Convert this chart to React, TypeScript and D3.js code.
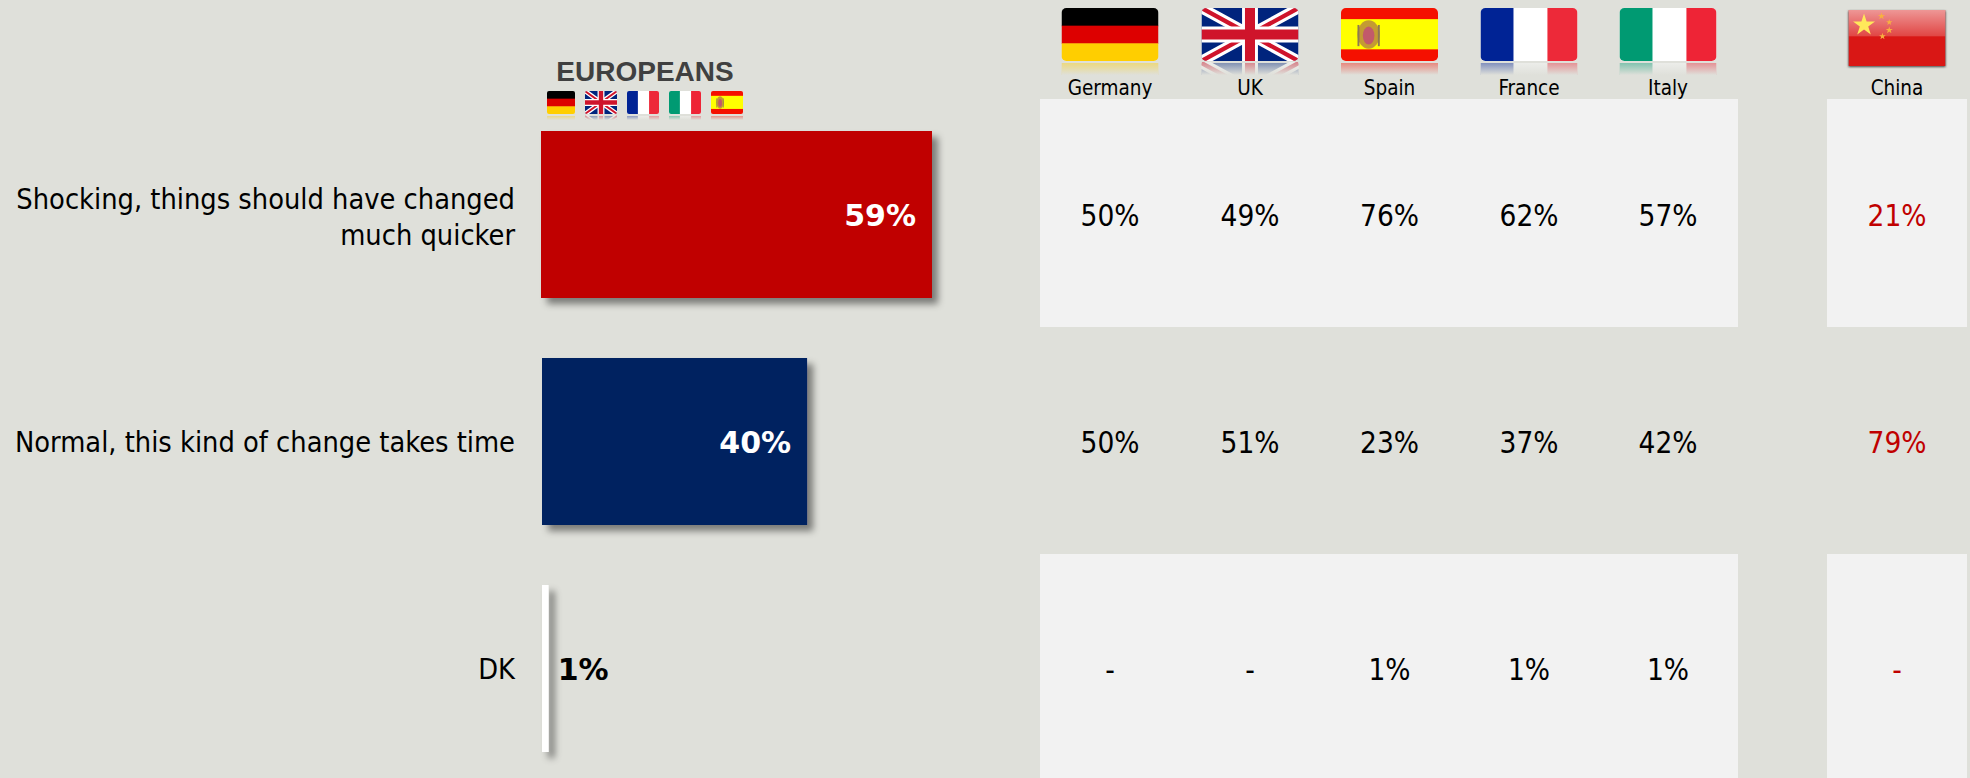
import React from "react";
import * as d3 from "d3";

const W = 1970, H = 778;
const answers = [["Shocking, things should have changed", "much quicker"], ["Normal, this kind of change takes time"], ["DK"]];
const europeans = [59, 40, 1];
const countries = ["Germany", "UK", "Spain", "France", "Italy", "China"];
const codes = ["de", "uk", "es", "fr", "it", "cn"];
const germany = ["50%", "50%", "-"];
const uk = ["49%", "51%", "-"];
const spain = ["76%", "23%", "1%"];
const france = ["62%", "37%", "1%"];
const italy = ["57%", "42%", "1%"];
const china = ["21%", "79%", "-"];
const table = [germany, uk, spain, france, italy, china];
const miniFlags = ["de", "uk", "fr", "it", "es"];
const colX = [1110, 1250, 1389.5, 1529, 1668, 1897];
const miniX = [547, 585, 627, 669, 711];
const miniW = [28, 32, 32, 32, 32];
const rowY = [131, 358, 585];
const barColors = ["#C00000", "#002060", "#FFFFFF"];
const BG = "#DFE0DA";
const FONT = "'DejaVu Sans Condensed', 'DejaVu Sans', sans-serif";

const x = d3.scaleLinear().domain([0, 59]).range([0, 391]);

function FlagArt({ code, w, h }: { code: string; w: number; h: number }) {
  if (code === "de") return <g>
    <rect width={w} height={h / 3 + .5} fill="#000" />
    <rect y={h / 3} width={w} height={h / 3 + .5} fill="#DD0000" />
    <rect y={2 * h / 3} width={w} height={h / 3} fill="#FFCE00" />
  </g>;
  if (code === "fr") return <g>
    <rect width={w} height={h} fill="#fff" />
    <rect width={w * .34} height={h} fill="#002395" />
    <rect x={w * .69} width={w * .31} height={h} fill="#ED2939" />
  </g>;
  if (code === "it") return <g>
    <rect width={w} height={h} fill="#fff" />
    <rect width={w * .34} height={h} fill="#009A72" />
    <rect x={w * .69} width={w * .31} height={h} fill="#EE2436" />
  </g>;
  if (code === "es") return <g>
    <rect width={w} height={h} fill="#F51000" />
    <rect y={h * .21} width={w} height={h * .57} fill="#FFFF00" />
    <ellipse cx={w * .285} cy={h * .5} rx={w * .115} ry={h * .27} fill="#B98A3C" opacity={0.85} />
    <ellipse cx={w * .285} cy={h * .52} rx={w * .06} ry={h * .17} fill="#C25A6A" />
    <rect x={w * .17} y={h * .32} width={w * .02} height={h * .4} fill="#8E7A50" />
    <rect x={w * .38} y={h * .32} width={w * .02} height={h * .4} fill="#8E7A50" />
  </g>;
  if (code === "uk") {
    return <g>
      <rect width={w} height={h} fill="#00247D" />
      <path d={`M0,0L${w},${h}M${w},0L0,${h}`} stroke="#fff" strokeWidth={h * .2} />
      <path d={`M0,0L${w},${h}M${w},0L0,${h}`} stroke="#CF142B" strokeWidth={h * .08} />
      <path d={`M${w / 2},0V${h}M0,${h / 2}H${w}`} stroke="#fff" strokeWidth={h * .3} />
      <path d={`M${w / 2},0V${h}M0,${h / 2}H${w}`} stroke="#CF142B" strokeWidth={h * .19} />
    </g>;
  }
  const star = d3.symbol(d3.symbolStar);
  const stars = [[.16, .27, 150], [.34, .11, 16], [.42, .22, 12], [.42, .36, 16], [.35, .47, 14]];
  return <g>
    <rect width={w} height={h} fill="#D91715" />
    <rect width={w} height={h * .47} fill="url(#gloss)" />
    {stars.map((p, i) => <path key={i} transform={`translate(${p[0] * w},${p[1] * h})`} d={star.size(p[2])() as string} fill={i === 0 ? "#FFE85A" : "#F7B040"} />)}
  </g>;
}

function Flag({ id, code, fx, fy, w, h, refl }: { id: string; code: string; fx: number; fy: number; w: number; h: number; refl: number }) {
  const r = code === "cn" ? 0 : Math.max(2, w * .05);
  return <g transform={`translate(${fx},${fy})`}>
    <clipPath id={id}><rect width={w} height={h} rx={r} /></clipPath>
    {refl > 0 && <g>
      <clipPath id={id + "r"}><rect y={h + 1} width={w} height={refl} /></clipPath>
      <g clipPath={`url(#${id}r)`} opacity={0.45}>
        <g transform={`translate(0,${2 * h + 2}) scale(1,-1)`}>
          <FlagArt code={code} w={w} h={h} />
        </g>
      </g>
      <rect y={h + 1} width={w} height={refl} fill="url(#fade)" />
    </g>}
    {code === "cn" && <rect width={w} height={h} y={1} filter="url(#flagShadow)" fill="#444" />}
    <g clipPath={`url(#${id})`}><FlagArt code={code} w={w} h={h} /></g>
  </g>;
}

export default function App() {
  return (
    <svg width={W} height={H} viewBox={`0 0 ${W} ${H}`} style={{ position: "fixed", left: 0, top: 0, display: "block" }} fontFamily={FONT}>
      <defs>
        <filter id="barShadow" x="-20%" y="-20%" width="140%" height="140%">
          <feDropShadow dx="6" dy="6" stdDeviation="3.5" floodColor="#000" floodOpacity="0.45" />
        </filter>
        <filter id="thinShadow" x="-300%" y="-10%" width="900%" height="120%">
          <feDropShadow dx="6" dy="6" stdDeviation="3.5" floodColor="#000" floodOpacity="0.45" />
        </filter>
        <filter id="flagShadow" x="-10%" y="-10%" width="120%" height="125%">
          <feGaussianBlur stdDeviation="1" />
        </filter>
        <linearGradient id="fade" x1="0" y1="0" x2="0" y2="1">
          <stop offset="0" stopColor={BG} stopOpacity="0" />
          <stop offset="1" stopColor={BG} stopOpacity="1" />
        </linearGradient>
        <linearGradient id="gloss" x1="0" y1="0" x2="0" y2="1">
          <stop offset="0" stopColor="#fff" stopOpacity="0.55" />
          <stop offset="1" stopColor="#fff" stopOpacity="0.2" />
        </linearGradient>
      </defs>
      <rect width={W} height={H} fill={BG} />

      {/* panels */}
      <rect x={1040} y={99} width={698} height={228} fill="#F2F2F2" />
      <rect x={1040} y={554} width={698} height={224} fill="#F2F2F2" />
      <rect x={1827} y={99} width={140} height={228} fill="#F2F2F2" />
      <rect x={1827} y={554} width={140} height={224} fill="#F2F2F2" />

      {/* title */}
      <text x={645} y={81} textAnchor="middle" fontFamily="'Liberation Sans', Arial, sans-serif" fontWeight="700" fontSize={28} fill="#404040">EUROPEANS</text>
      {miniFlags.map((c, i) => <Flag key={c} id={`m${c}`} code={c} fx={miniX[i]} fy={91} w={miniW[i]} h={23} refl={5} />)}

      {/* big flags */}
      {codes.map((c, i) => <Flag key={c} id={`f${c}`} code={c}
        fx={colX[i] - 48.5} fy={c === "cn" ? 10 : 8} w={97} h={c === "cn" ? 56 : 53} refl={c === "cn" ? 0 : 13} />)}
      {countries.map((c, i) => <text key={c} x={colX[i]} y={95} textAnchor="middle" fontSize={20.5} fill="#000">{c}</text>)}

      {/* bars */}
      {europeans.map((v, i) => {
        const bx = i === 0 ? 541 : 542;
        const w = x(v);
        return <g key={i}>
          <rect x={bx} y={rowY[i]} width={w} height={167} fill={barColors[i]} filter={i === 2 ? "url(#thinShadow)" : "url(#barShadow)"} />
          <text x={i === 2 ? bx + w + 9 : bx + w - 16} y={rowY[i] + 95} textAnchor={i === 2 ? "start" : "end"}
            fontFamily="'DejaVu Sans', sans-serif" fontWeight="700" fontSize={30} fill={i === 2 ? "#000" : "#fff"}>{v}%</text>
        </g>;
      })}

      {/* row labels */}
      {answers.map((lines, i) => {
        const cy = rowY[i] + 84;
        const y0 = cy - (lines.length - 1) * 15.5;
        return <g key={i}>
          {lines.map((l, j) => <text key={j} x={515} y={y0 + j * 35.5 + 9.5} textAnchor="end" fontSize={28.7} fill="#000">{l}</text>)}
        </g>;
      })}

      {/* table values */}
      {table.map((col, c) => col.map((v, r) => (
        <text key={`${c}-${r}`} x={colX[c]} y={rowY[r] + 95} textAnchor="middle" fontSize={29.5}
          fill={c === 5 ? "#C00000" : "#000"}>{v}</text>
      )))}
    </svg>
  );
}
